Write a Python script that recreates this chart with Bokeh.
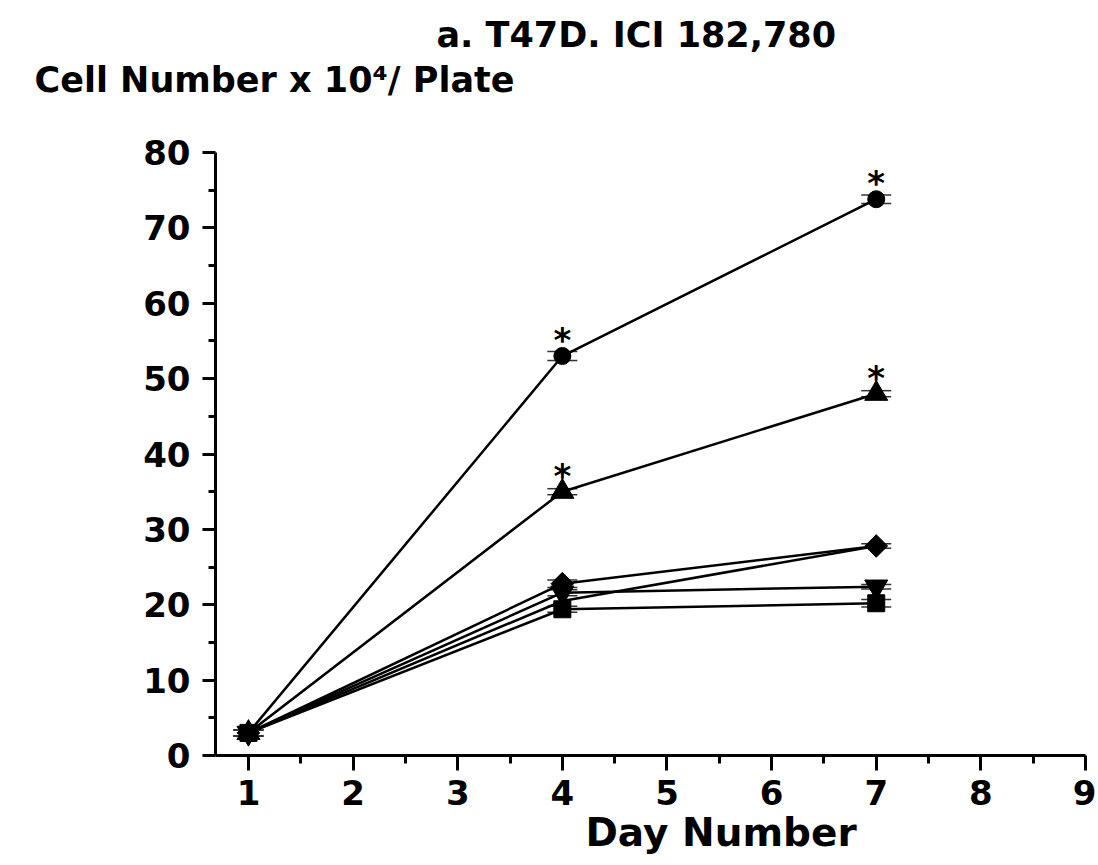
from bokeh.plotting import figure
from bokeh.models import Range1d, FixedTicker, Title, ColumnDataSource, Whisker, TeeHead
from bokeh.core.properties import value
from bokeh.embed import file_html
from bokeh.resources import INLINE

# ---- data ----
days = [1, 4, 7]
circle_vals = [3.0, 53.0, 73.8]
circle_err = [0.4, 0.6, 0.55]
tri_up_vals = [3.0, 35.0, 48.0]
tri_up_err = [0.4, 0.4, 0.4]
diamond_vals = [3.0, 22.8, 27.8]
diamond_err = [0.4, 0.5, 0.3]
tri_down_vals = [3.0, 21.6, 22.4]
tri_down_err = [0.4, 0.4, 0.3]
square_vals = [3.0, 19.4, 20.2]
square_err = [0.4, 0.4, 0.5]
hidden_vals = [3.0, 20.5, 27.8]
star_days = [4, 7, 4, 7]
star_vals = [53.0, 73.8, 35.0, 48.0]

x_ticks = [1, 2, 3, 4, 5, 6, 7, 8, 9]
y_ticks = [0, 10, 20, 30, 40, 50, 60, 70, 80]

title_text = "a. T47D. ICI 182,780"
ylabel_text = "Cell Number x 10\u2074/ Plate"
xlabel_text = "Day Number"

FONT = "DejaVu Sans"

p = figure(width=1096, height=862, output_backend="svg", toolbar_location=None,
           x_range=Range1d(0.685, 9), y_range=Range1d(0, 80),
           min_border_left=215, min_border_right=11, min_border_top=152, min_border_bottom=107)
p.title.visible = False
p.outline_line_color = None
p.grid.visible = False
p.background_fill_color = "white"
p.border_fill_color = "white"

p.xaxis.ticker = FixedTicker(ticks=x_ticks, minor_ticks=[t + 0.5 for t in x_ticks[:-1]])
p.yaxis.ticker = FixedTicker(ticks=y_ticks, minor_ticks=[t + 5 for t in y_ticks[:-1]])
for ax in (p.xaxis[0], p.yaxis[0]):
    ax.axis_line_width = 3
    ax.major_tick_line_width = 3
    ax.minor_tick_line_width = 3
    ax.major_tick_in = 0
    ax.minor_tick_in = 0
    ax.major_label_text_font = FONT
    ax.major_label_text_font_style = "bold"
    ax.major_label_text_font_size = "34px"
    ax.major_label_text_color = "black"
p.xaxis.major_tick_out = 15
p.xaxis.minor_tick_out = 8
p.xaxis.major_label_standoff = 9
p.yaxis.major_tick_out = 13
p.yaxis.minor_tick_out = 7
p.yaxis.major_label_standoff = 12

series = [
    (circle_vals, circle_err, "circle", 17, 0),
    (tri_up_vals, tri_up_err, "triangle", 23, 0),
    (diamond_vals, diamond_err, "square", 16, 0.785398),
    (tri_down_vals, tri_down_err, "inverted_triangle", 23, 0),
    (square_vals, square_err, "square", 17, 0),
]

p.line(days, hidden_vals, line_color="black", line_width=2.5)
for vals, err, *_ in series:
    p.line(days, vals, line_color="black", line_width=2.5)

for vals, err, *_ in series:
    src = ColumnDataSource(dict(x=days, upper=[v + e for v, e in zip(vals, err)],
                                lower=[v - e for v, e in zip(vals, err)]))
    w = Whisker(base="x", upper="upper", lower="lower", source=src, level="underlay",
                line_color="black", line_width=1,
                upper_head=TeeHead(size=30, line_color="#333333", line_width=1.5),
                lower_head=TeeHead(size=30, line_color="#333333", line_width=1.5))
    p.add_layout(w)

for vals, err, marker, size, angle in series:
    p.scatter(days, vals, marker=marker, size=size, angle=angle,
              fill_color="black", line_color="black")

p.text(x=star_days, y=star_vals, text=["*"] * len(star_days), text_font=value(FONT),
       text_font_style="bold", text_font_size="34px", text_align="center",
       text_baseline="bottom", y_offset=4, text_color="black")

# titles / axis captions placed in the border panels
# (an empty spacer title keeps the caption lines away from the frame)
p.add_layout(Title(text=" ", align="left", standoff=41, text_font_size="1px",
                   text_color="white"), "above")
p.add_layout(Title(text=ylabel_text, align="left", offset=-181, standoff=17,
                   text_font=FONT, text_font_style="bold", text_font_size="35px",
                   text_color="black"), "above")
p.add_layout(Title(text=title_text, align="left", offset=221, standoff=-11,
                   text_font=FONT, text_font_style="bold", text_font_size="35px",
                   text_color="black"), "above")
p.add_layout(Title(text=xlabel_text, align="left", offset=370, standoff=0,
                   text_font=FONT, text_font_style="bold", text_font_size="39px",
                   text_color="black"), "below")

open("out.html", "w").write(file_html(p, INLINE))
